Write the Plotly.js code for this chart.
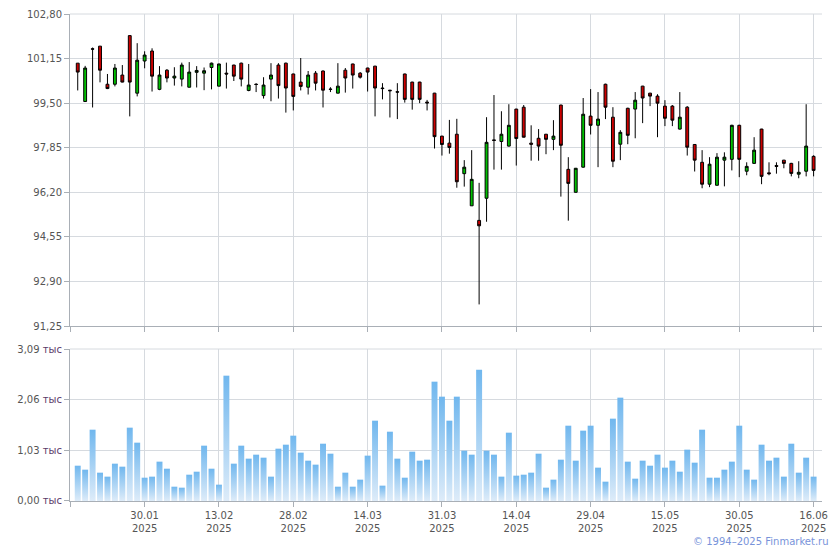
<!DOCTYPE html>
<html>
<head>
<meta charset="utf-8">
<script src="https://cdn.plot.ly/plotly-3.0.1.min.js"></script>
<style>
  html, body { margin: 0; padding: 0; background: #ffffff; }
  #chart { width: 840px; height: 550px; }
</style>
</head>
<body>
<div id="chart"></div>
<script>
// ---- data ----
const openP  = [100.98,99.56,101.51,101.61,100.20,100.20,100.54,102.00,99.87,101.06,
                101.43,100.01,100.72,100.43,100.39,100.09,100.64,100.61,100.82,100.13,
                100.61,100.91,100.98,99.97,100.20,99.78,100.39,100.91,100.98,100.58,
                100.28,100.09,100.61,100.69,100.02,99.87,100.72,100.95,100.61,100.80,
                100.87,100.06,99.98,99.92,100.58,100.28,100.28,99.54,99.87,98.28,
                98.02,98.35,96.89,95.70,95.16,95.98,98.14,98.08,97.91,99.28,
                99.35,98.02,98.20,98.35,98.16,99.43,97.05,96.20,97.13,99.02,
                98.68,100.20,98.98,97.98,99.31,99.28,100.13,99.87,99.76,99.39,
                99.39,98.54,99.35,97.97,97.31,96.50,96.46,97.39,97.42,98.68,
                96.98,97.27,98.54,96.92,97.19,97.39,97.27,96.87,96.98,97.53];
const highP  = [100.98,100.88,101.56,101.61,100.58,100.95,100.91,102.00,101.72,101.42,
                101.53,100.87,100.76,100.83,101.00,101.02,100.87,100.82,101.00,100.96,
                101.00,100.92,101.00,100.95,100.24,100.46,100.98,100.98,101.00,100.59,
                101.17,100.69,100.69,100.71,100.09,100.98,100.80,100.96,100.65,100.81,
                100.88,100.24,99.99,100.24,100.59,100.29,100.29,99.62,99.88,98.29,
                98.88,98.92,97.39,97.76,96.55,98.98,99.80,99.20,99.46,99.29,
                99.43,98.68,98.54,98.36,98.87,99.44,97.50,97.10,99.69,100.02,
                99.91,100.22,99.35,98.50,99.33,99.91,100.14,99.88,99.83,99.61,
                99.43,99.91,99.39,97.98,97.76,97.50,97.65,97.68,98.70,98.70,
                97.31,98.24,98.55,97.31,97.31,97.40,97.29,97.35,99.46,97.57];
const lowP   = [99.97,99.56,99.34,100.27,100.02,100.12,100.27,99.01,99.75,100.79,
                99.93,99.98,100.27,100.15,100.12,100.08,100.08,99.98,100.01,100.12,
                100.04,100.32,100.12,99.94,99.91,99.67,99.57,99.67,99.15,99.23,
                99.97,99.82,99.97,99.34,99.91,99.86,99.89,100.04,100.41,99.93,
                99.01,99.64,98.97,98.91,99.52,99.26,99.50,99.23,97.82,97.56,
                97.63,96.37,96.41,95.70,92.05,95.11,97.04,97.04,97.89,97.19,
                98.23,97.37,97.37,97.61,97.76,96.04,95.15,96.19,97.11,98.34,
                97.13,98.91,97.13,97.39,97.98,98.20,98.76,99.39,98.24,98.65,
                98.65,98.52,97.56,96.97,96.35,96.39,96.45,96.42,97.01,96.76,
                96.83,97.26,96.50,96.83,96.89,97.09,96.79,96.72,96.79,96.79];
const closeP = [100.65,100.80,101.50,100.72,100.04,100.80,100.28,100.28,101.09,101.28,
                100.50,100.54,100.43,100.50,100.91,100.65,100.71,100.70,100.98,100.95,
                100.58,100.50,100.39,100.17,100.19,100.17,100.54,100.15,100.06,99.75,
                100.12,100.54,100.24,99.98,100.01,100.13,100.43,100.54,100.46,100.65,
                100.06,100.04,99.96,99.91,99.64,99.64,99.64,99.51,98.26,97.97,
                97.86,96.59,97.13,96.68,94.96,98.05,98.12,98.35,98.68,98.19,
                98.24,97.98,97.91,98.16,98.28,97.94,96.53,97.09,99.09,98.68,
                98.91,99.35,97.35,98.42,98.31,99.61,99.69,99.76,99.50,98.94,
                98.87,98.98,97.87,97.39,96.50,97.24,97.50,97.50,98.68,97.42,
                97.16,97.76,96.79,96.89,97.16,97.27,96.90,96.94,97.91,97.01];
// volume, thousands
const volume = [0.718,0.637,1.450,0.576,0.495,0.759,0.698,1.491,1.186,0.474,
                0.495,0.800,0.657,0.291,0.271,0.535,0.596,1.125,0.657,0.332,
                2.548,0.759,1.125,0.861,0.942,0.881,0.495,1.064,1.145,1.328,
                0.983,0.820,0.739,1.165,0.962,0.291,0.576,0.291,0.434,0.922,
                1.633,0.312,1.409,0.861,0.474,1.003,0.820,0.840,2.426,2.121,
                1.633,2.121,1.023,0.942,2.670,1.023,0.942,0.495,1.389,0.515,
                0.535,0.576,0.962,0.271,0.434,0.840,1.531,0.820,1.430,1.531,
                0.678,0.393,1.674,2.101,0.800,0.454,0.820,0.718,0.942,0.678,
                0.820,0.596,1.044,0.779,1.450,0.474,0.474,0.637,0.800,1.531,
                0.637,0.434,1.145,0.820,0.881,0.495,1.165,0.576,0.881,0.495];
const dateTickIdx = [-1, 9, 19, 29, 39, 49, 59, 69, 79, 89, 99];
const dateTickLabels = ['', '30.01<br>2025', '13.02<br>2025', '28.02<br>2025', '14.03<br>2025',
                        '31.03<br>2025', '14.04<br>2025', '29.04<br>2025', '15.05<br>2025',
                        '30.05<br>2025', '16.06<br>2025'];
const priceTicks = [91.25, 92.90, 94.55, 96.20, 97.85, 99.50, 101.15, 102.80];
const volTicks = [0, 1.03, 2.06, 3.09];

// ---- build ----
const idx = openP.map((_, i) => i);
const fmt = v => v.toFixed(2).replace('.', ',');

const axisGray = '#a9afb6';
const gridGray = '#d6dadf';
const txtGray = '#555555';
const font = { family: 'DejaVu Sans, Verdana, sans-serif', size: 10, color: txtGray };

const candle = {
  type: 'candlestick',
  x: idx, open: openP, high: highP, low: lowP, close: closeP,
  xaxis: 'x', yaxis: 'y',
  increasing: { line: { color: '#000000', width: 1 }, fillcolor: '#00c000' },
  decreasing: { line: { color: '#000000', width: 1 }, fillcolor: '#cc0000' },
  whiskerwidth: 0,
  hoverinfo: 'skip',
  showlegend: false
};
const bars = {
  type: 'bar',
  x: idx, y: volume,
  xaxis: 'x2', yaxis: 'y2',
  marker: { color: '#9ccaf2', line: { width: 0 } },
  hoverinfo: 'skip',
  showlegend: false
};

const xRange = [-1.04, 100.13];
const commonX = {
  range: xRange, tickmode: 'array', tickvals: dateTickIdx,
  ticks: 'outside', ticklen: 5, tickcolor: axisGray, tickwidth: 1,
  showgrid: true, gridcolor: gridGray, gridwidth: 1,
  showline: true, linecolor: axisGray, linewidth: 1,
  zeroline: false, fixedrange: true, tickfont: font
};
const commonY = {
  tickmode: 'array', ticks: 'outside', ticklen: 5, tickcolor: axisGray, tickwidth: 1,
  showgrid: true, gridcolor: gridGray, gridwidth: 1,
  showline: true, linecolor: axisGray, linewidth: 1,
  zeroline: false, fixedrange: true, tickfont: font
};

// top grid lines at the upper range ends (Plotly clips grid lines at the range edges)
const topGrid = yref => ({
  type: 'line', layer: 'below', xref: 'x domain', yref: yref,
  x0: 0, x1: 1, y0: 1, y1: 1,
  line: { color: gridGray, width: 1 }
});

const layout = {
  width: 840, height: 550,
  margin: { l: 70, r: 18, t: 14, b: 49 },
  paper_bgcolor: '#ffffff', plot_bgcolor: '#ffffff',
  font: font,
  showlegend: false,
  boxgap: 0.45,
  bargap: 0.2,
  xaxis: Object.assign({}, commonX, {
    anchor: 'y', domain: [0, 1], showticklabels: false,
    ticktext: dateTickIdx.map(() => ''),
    rangeslider: { visible: false }
  }),
  xaxis2: Object.assign({}, commonX, {
    anchor: 'y2', domain: [0, 1], ticktext: dateTickLabels
  }),
  yaxis: Object.assign({}, commonY, {
    anchor: 'x', domain: [0.3593, 1], range: [priceTicks[0], priceTicks[priceTicks.length - 1]],
    tickvals: priceTicks, ticktext: priceTicks.map(fmt)
  }),
  yaxis2: Object.assign({}, commonY, {
    anchor: 'x2', domain: [0, 0.3121], range: [volTicks[0], volTicks[volTicks.length - 1]],
    tickvals: volTicks,
    ticktext: volTicks.map(v => fmt(v) + ' <span style="color:#5a3a6a">тыс</span>')
  }),
  shapes: [
    Object.assign(topGrid('y domain'), { xref: 'x domain' }),
    Object.assign(topGrid('y2 domain'), { xref: 'x2 domain' })
  ],
  annotations: [{
    xref: 'paper', yref: 'paper', x: 1.012, y: -0.084,
    xanchor: 'right', yanchor: 'middle', showarrow: false,
    text: '© 1994–2025 Finmarket.ru',
    font: { family: 'DejaVu Sans, Verdana, sans-serif', size: 10, color: '#7893da' }
  }]
};

Plotly.newPlot('chart', [candle, bars], layout, { staticPlot: true, displayModeBar: false })
  .then(gd => {
    const ns = 'http://www.w3.org/2000/svg';
    const svg = gd.querySelector('.main-svg');
    let defs = svg.querySelector('defs');
    if (!defs) { defs = document.createElementNS(ns, 'defs'); svg.insertBefore(defs, svg.firstChild); }
    const lg = document.createElementNS(ns, 'linearGradient');
    lg.setAttribute('id', 'volGrad');
    lg.setAttribute('x1', '0'); lg.setAttribute('y1', '0');
    lg.setAttribute('x2', '0'); lg.setAttribute('y2', '1');
    [['0', '#70b7ee'], ['1', '#deecf9']].forEach(([o, c]) => {
      const s = document.createElementNS(ns, 'stop');
      s.setAttribute('offset', o); s.setAttribute('stop-color', c);
      lg.appendChild(s);
    });
    defs.appendChild(lg);
    gd.querySelectorAll('.barlayer .point path').forEach(p => { p.style.fill = 'url(#volGrad)'; });
  });
</script>
</body>
</html>
